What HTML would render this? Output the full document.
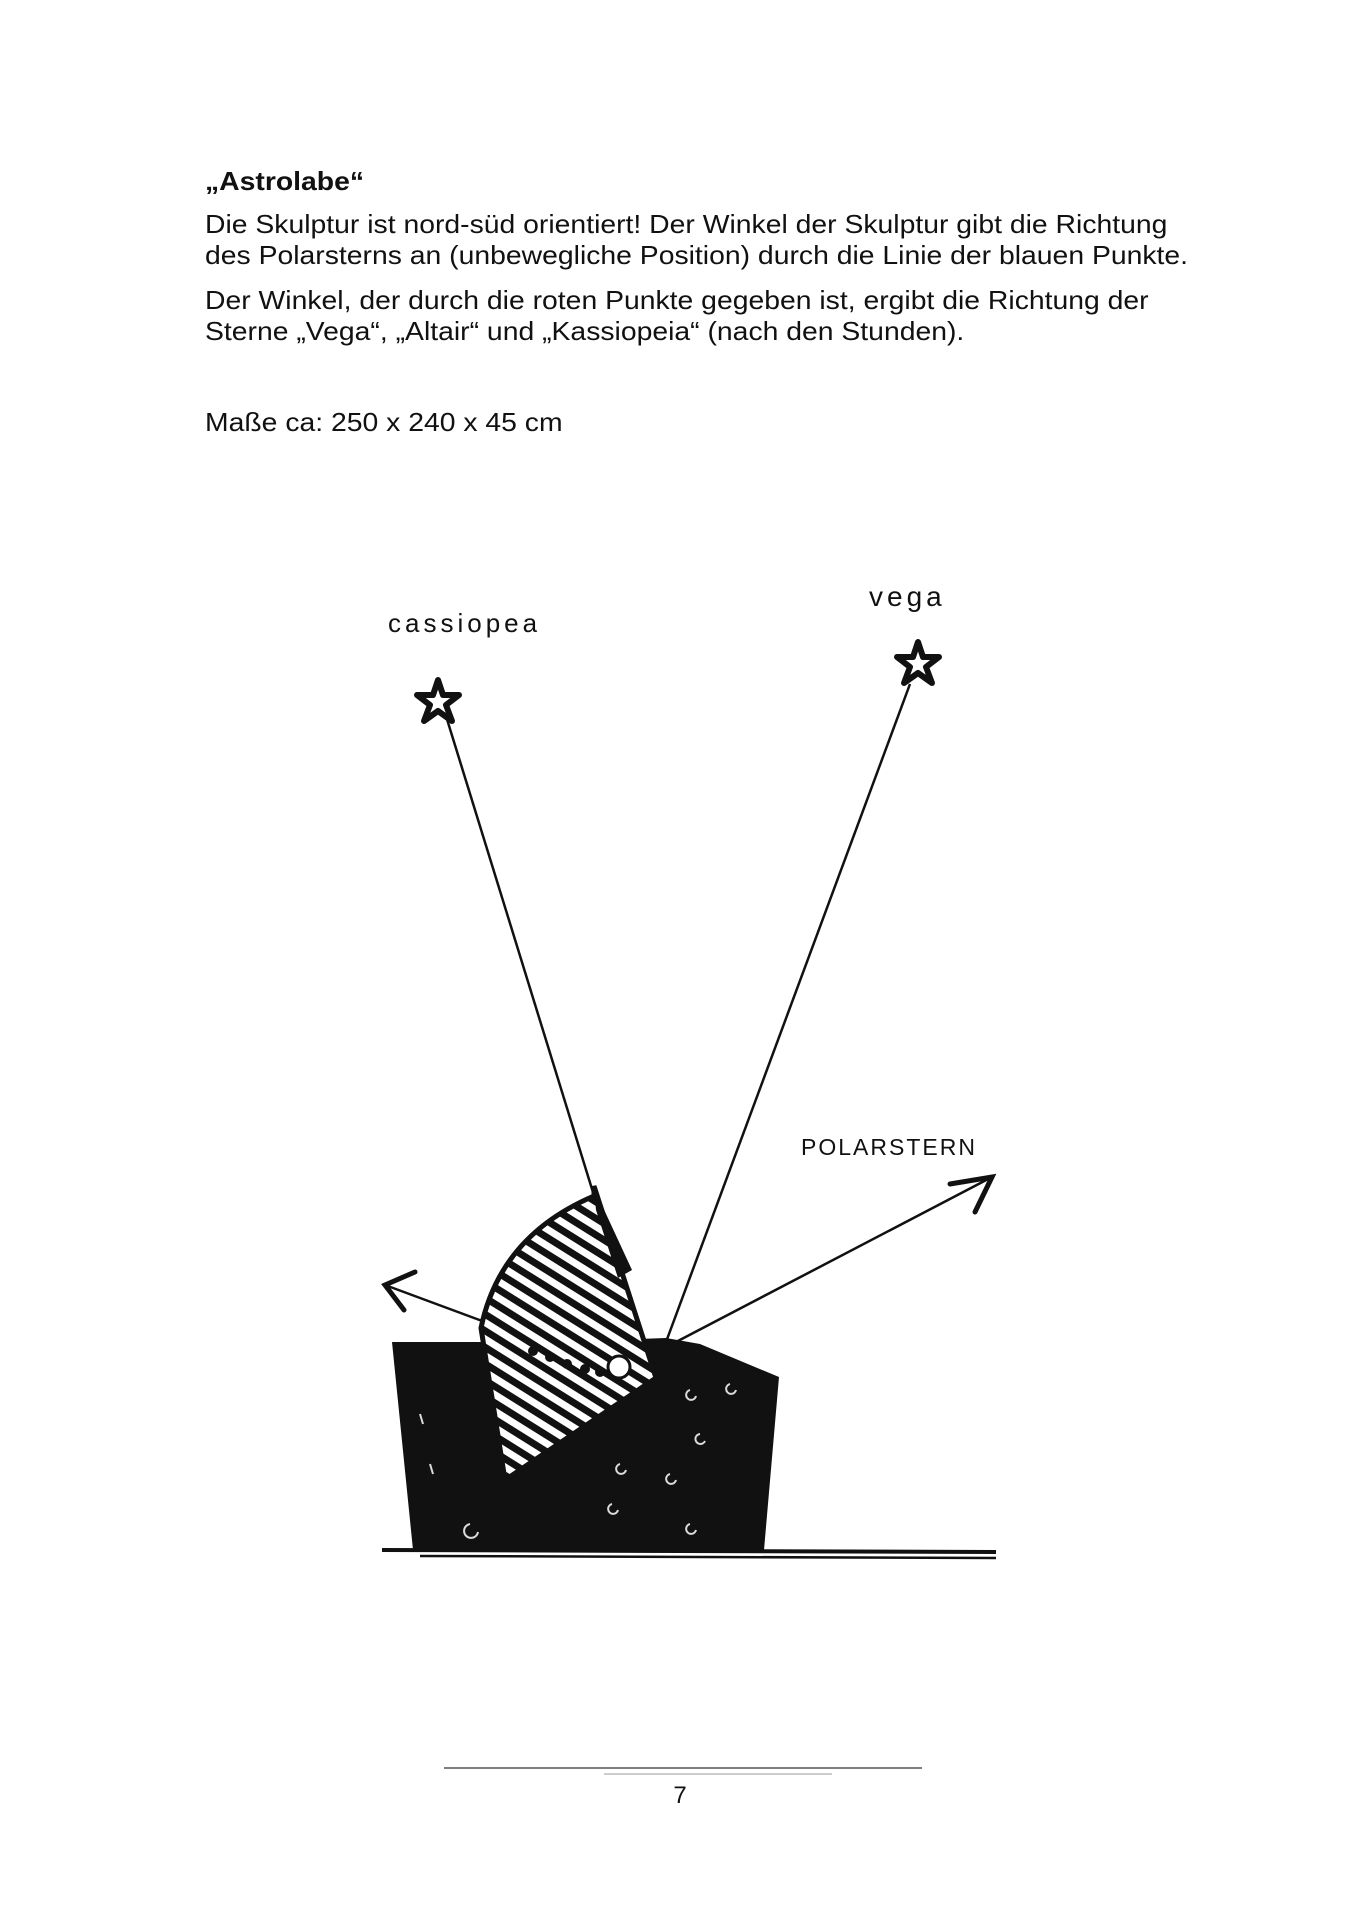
<!DOCTYPE html>
<html><head><meta charset="utf-8"><style>
html,body{margin:0;padding:0;background:#fff;}
body{width:1356px;height:1920px;position:relative;overflow:hidden;font-family:"Liberation Sans",Arial,sans-serif;color:#111;}
.t{position:absolute;left:205px;font-size:26px;line-height:31px;white-space:nowrap;transform-origin:0 0;transform:scaleX(1.09);}
</style></head><body>
<div class="t" style="top:166px;font-weight:bold;">„Astrolabe“</div>
<div class="t" style="top:209px;">Die Skulptur ist nord-süd orientiert! Der Winkel der Skulptur gibt die Richtung<br>des Polarsterns an (unbewegliche Position) durch die Linie der blauen Punkte.</div>
<div class="t" style="top:285px;">Der Winkel, der durch die roten Punkte gegeben ist, ergibt die Richtung der<br>Sterne „Vega“, „Altair“ und „Kassiopeia“ (nach den Stunden).</div>
<div class="t" style="top:407px;">Maße ca: 250 x 240 x 45 cm</div>

<svg width="1356" height="1920" style="position:absolute;left:0;top:0" xmlns="http://www.w3.org/2000/svg">
<defs>
<pattern id="h" patternUnits="userSpaceOnUse" width="14" height="14" patternTransform="rotate(32)">
<rect width="14" height="14" fill="#fff"/><rect y="0" width="14" height="7" fill="#111"/>
</pattern>
</defs>
<text x="388" y="632" font-family="Liberation Sans, sans-serif" font-size="26" letter-spacing="4" fill="#111">cassiopea</text>
<text x="869" y="606" font-family="Liberation Sans, sans-serif" font-size="28" letter-spacing="4" fill="#111">vega</text>
<text x="801" y="1155" font-family="Liberation Sans, sans-serif" font-size="23" letter-spacing="2" fill="#111">POLARSTERN</text>
<g fill="none" stroke="#111" stroke-width="6" stroke-linejoin="round">
<polygon points="438,680 443,695 459,695 446,705 452,721 438,711 424,721 430,705 417,695 433,695"/>
<polygon points="918,642 923,657 939,657 926,667 932,683 918,673 904,683 910,667 897,657 913,657"/>
</g>
<g stroke="#111" stroke-width="2.5" fill="none">
<line x1="446" y1="716" x2="604" y2="1228"/>
<line x1="910" y1="684" x2="666" y2="1342"/>
<line x1="676" y1="1342" x2="992" y2="1177"/>
<line x1="493" y1="1325" x2="385" y2="1285"/>
</g>
<g stroke="#111" stroke-width="5" fill="none" stroke-linecap="round">
<polyline points="950,1184 992,1177 975,1212"/>
<polyline points="415,1272 385,1285 404,1310"/>
</g>
<polygon points="392,1342 480,1342 500,1344 666,1338 700,1344 779,1377 764,1550 413,1550" fill="#111"/>
<path d="M594,1186 L656,1378 L505,1480 L481,1328 Q500,1236 594,1196 Z" fill="url(#h)" stroke="#111" stroke-width="5"/>
<path d="M594,1188 L632,1270 L618,1278 L596,1210 Z" fill="#111"/>
<g fill="#111">
<circle cx="533" cy="1351" r="5"/><circle cx="550" cy="1357" r="5"/><circle cx="567" cy="1364" r="5"/><circle cx="585" cy="1369" r="5"/><circle cx="600" cy="1372" r="5"/>
</g>
<circle cx="619" cy="1367" r="11" fill="#fff" stroke="#111" stroke-width="3"/>
<g fill="none" stroke="#fff" stroke-width="2" opacity="0.85">
<path d="M690,1390 a5,5 0 1 0 6,6"/><path d="M730,1384 a5,5 0 1 0 6,6"/><path d="M700,1434 a5,5 0 1 0 5,7"/>
<path d="M620,1464 a5,5 0 1 0 6,6"/><path d="M670,1474 a5,5 0 1 0 6,6"/><path d="M612,1504 a5,5 0 1 0 6,6"/>
<path d="M470,1524 a7,7 0 1 0 8,8"/><path d="M690,1524 a5,5 0 1 0 6,6"/><path d="M420,1414 l3,10"/><path d="M430,1464 l3,10"/>
</g>
<path d="M382,1550 L996,1552" stroke="#111" stroke-width="4"/>
<path d="M420,1556 L996,1558" stroke="#111" stroke-width="2.5"/>
<line x1="444" y1="1768" x2="922" y2="1768" stroke="#555" stroke-width="1.5"/>
<line x1="604" y1="1774" x2="832" y2="1774" stroke="#999" stroke-width="1"/>
<text x="680" y="1803" font-family="Liberation Sans, sans-serif" font-size="24" fill="#111" text-anchor="middle">7</text>
</svg>
</body></html>
